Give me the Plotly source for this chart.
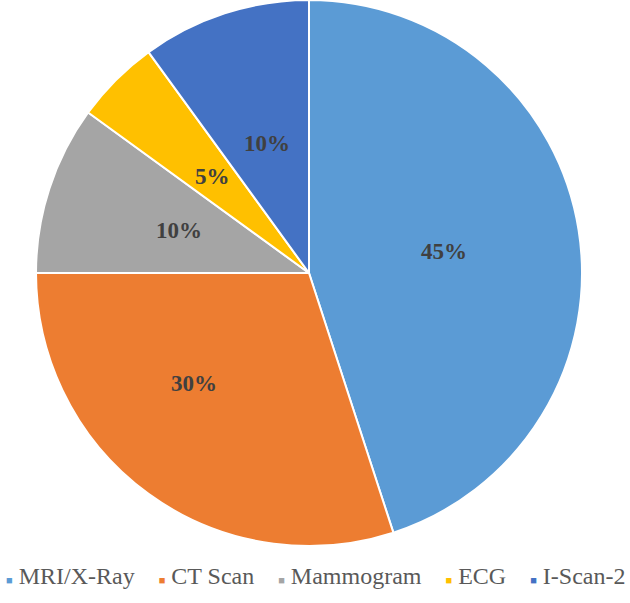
import math
import plotly.graph_objects as go

labels = ["MRI/X-Ray", "CT Scan", "Mammogram", "ECG", "I-Scan-2"]
values = [45, 30, 10, 5, 10]
colors = ["#5B9BD5", "#ED7D31", "#A5A5A5", "#FFC000", "#4472C4"]

W, H = 630, 603
cx, cy, r = 309, 273, 273
FONT = "Liberation Serif, Times New Roman, serif"
# label placement: (angle shift in degrees, fraction of radius)
label_place = [(0, 0.5), (10, 0.585), (0, 0.5), (0, 0.5), (0, 0.5)]

fig = go.Figure()
fig.add_trace(go.Pie(
    labels=labels, values=values, sort=False, direction="clockwise", rotation=0,
    marker=dict(colors=colors, line=dict(color="white", width=2)),
    textinfo="none", hoverinfo="label+percent",
    domain=dict(x=[(cx - r) / W, (cx + r) / W], y=[1 - (cy + r) / H, 1 - (cy - r) / H]),
))

# percentage labels along each slice's middle angle
total = sum(values)
cum = 0
for v, (shift, frac) in zip(values, label_place):
    mid = (cum + v / 2) / total * 2 * math.pi + math.radians(shift)
    cum += v
    px = cx + frac * r * math.sin(mid)
    py = cy - frac * r * math.cos(mid)
    fig.add_annotation(x=px / W, y=1 - py / H, xref="paper", yref="paper",
                       xanchor="center", yanchor="middle",
                       text=f"<b>{round(v / total * 100)}%</b>", showarrow=False,
                       font=dict(family=FONT, size=23, color="#404040"))

# legend row
gap = "\u00a0" * 4
parts = [f"<span style='color:{c};font-size:11px'>\u25a0</span>\u00a0{l}" for l, c in zip(labels, colors)]
fig.add_annotation(x=0.5, y=1 - 576 / H, xref="paper", yref="paper", xanchor="center", yanchor="middle",
                   text=gap.join(parts), showarrow=False,
                   font=dict(family=FONT, size=24, color="#595959"))

fig.update_layout(
    width=W, height=H, margin=dict(l=0, r=0, t=0, b=0),
    paper_bgcolor="white", plot_bgcolor="white",
    showlegend=False,
)
fig.write_html("out.html", config={"displayModeBar": False},
               post_script="document.body.style.margin='0';")
